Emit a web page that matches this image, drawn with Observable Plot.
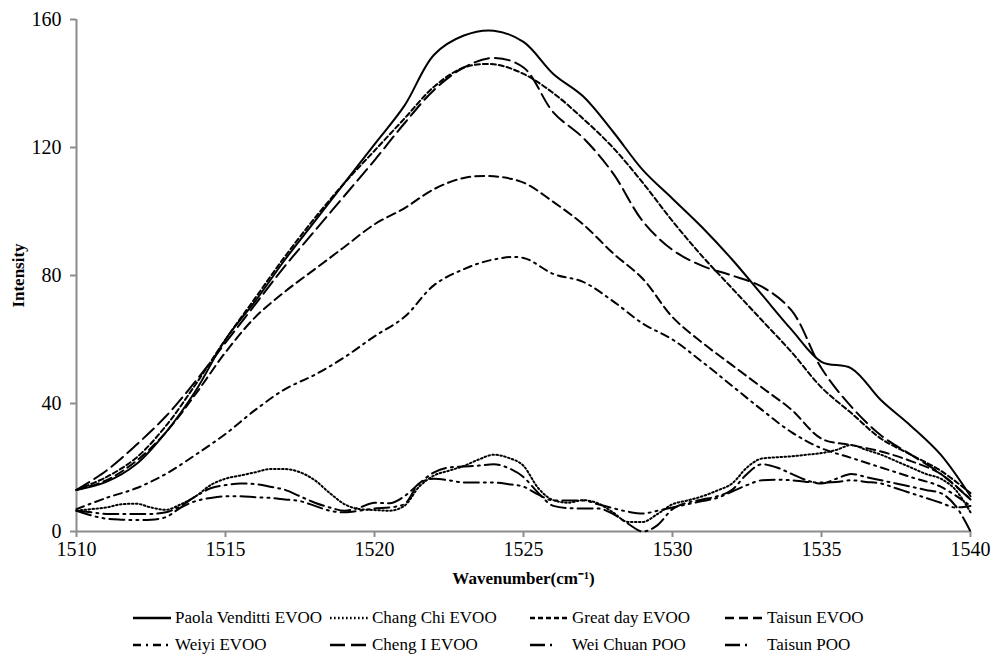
<!DOCTYPE html>
<html><head><meta charset="utf-8">
<script src="https://cdn.jsdelivr.net/npm/d3@7"></script>
<script src="https://cdn.jsdelivr.net/npm/@observablehq/plot@0.6"></script>
<style>
body{margin:0;background:#fff;font-family:"Liberation Serif","Times New Roman",serif;}
#wrap{width:994px;height:656px;position:relative;}
#legend{position:relative;width:994px;height:60px;}
.item{position:absolute;height:20px;display:flex;align-items:center;font-size:17px;color:#000;white-space:nowrap;}
.item svg{position:absolute;left:0;top:0;}
.item span{position:absolute;top:0;line-height:20px;}
</style></head><body><div id="wrap"><div id="chart"></div><div id="legend"></div></div>
<script>
// Coarse wavenumber grid (cm-1) for the large peaks
const wavenumbers = [1510,1511,1512,1513,1514,1515,1516,1517,1518,1519,1520,1521,1522,1523,1524,1525,1526,1527,1528,1529,1530,1531,1532,1533,1534,1535,1536,1537,1538,1539,1540];
const paolaVenditti = [13,15.5,21,31,44,60,72,85,97,109,121,133,149,155,156.5,153,143,136,125,113,104,95,85,74,63,53,51,41,33,24,11];
const greatDay      = [13,17,23,33,46,60,73,86,98,109,119,129,139,145,146,143,137,129,120,109,97,86,76,66,56,45,37,29,24,19,12];
const taisunEVOO    = [13,16,22,31,43,56,67,75,82,89,96,101,107,110.5,111,109,103,96,87,79,67,59,52,45,38,29,27,25,22,18,10];
const weiyi         = [7,10.5,13.5,18,24,30.5,38,44.5,49,54.5,61,67,77,82,85,85.5,80.5,78,72,65,60,53,45.5,38,31,26,23,20,17,14,8];
const chengI        = [13,19,27,36,47,59,71,83,94,105,116,127.5,138,145,148,145,131,123,112,97,88,83,80,76.5,69,51,39,30,24,18,10];

// Fine wavenumber grid for the small, wavy spectra
const wavenumbersFine = [1510,1510.5,1511,1511.5,1512,1512.5,1513,1513.5,1514,1514.5,
  1515,1515.5,1516,1516.5,1517,1517.5,1518,1518.5,1519,1519.5,
  1520,1520.5,1521,1521.5,1522,1522.5,1523,1523.5,1524,1524.5,
  1525,1525.5,1526,1526.5,1527,1527.5,1528,1528.5,1529,1529.5,
  1530,1530.5,1531,1531.5,1532,1532.5,1533,1533.5,1534,1534.5,
  1535,1535.5,1536,1536.5,1537,1537.5,1538,1538.5,1539,1539.5,1540];
const changChi = [6.5,7,7.5,8.5,8.7,7.5,6.8,8.5,11,14.5,
  16.5,17.5,18.5,19.5,19.5,18.5,16,12,8.5,7,
  6.7,6.5,8,14,17.5,19,20.5,22.5,24,23,
  20.5,13.5,9.8,9,9.8,8.8,6,3,3,5.5,
  8.5,9.7,11,12.8,15,20,22.8,23.2,23.5,24,
  24.5,25.5,27,25.5,24,22,20,18,16.5,13,6];
const weiChuanPOO = [6.5,6,5.5,5.5,5.5,5.5,6,8,11,13.5,
  14.5,15,14.8,14,13,11,9,7.5,6.5,7.5,
  9,8.8,11,15,18.5,20,20.3,20.6,21,19.8,
  17,12,8,7.3,7.2,7.2,5.5,2.5,0,2,
  7,9,10,11,13,18,21,20,18,16,
  15,16.5,18,17,16,15,14,13,12,8,0];
const taisunPOO = [6.5,5,4,3.7,3.6,3.7,4.5,7.5,9.5,10.5,
  11,11,10.7,10.5,10,9.5,8,6.5,6,6.5,
  7.2,7.5,8.5,15,16.5,16,15.3,15.3,15.3,14.8,
  14,11.5,9.7,9.7,9.7,8.5,7.3,6.2,5.6,6.5,
  7.5,8.5,9.5,10.5,12.5,14.5,16,16.2,16,15.5,
  15.3,15.5,16,15.5,15,13.5,12,10.5,9,7.5,8];

const seriesNames = ["Paola Venditti EVOO","Chang Chi EVOO","Great day EVOO","Taisun EVOO","Weiyi EVOO","Cheng I EVOO","Wei Chuan POO","Taisun POO"];
const xTicks = [1510,1515,1520,1525,1530,1535,1540];
const yTicks = [0,40,80,120,160];

const series = [
  {name: seriesNames[0], x: wavenumbers, y: paolaVenditti, dash: null, curve: "catmull-rom"},
  {name: seriesNames[1], x: wavenumbersFine, y: changChi, dash: "1.6 2.4", curve: "monotone-x"},
  {name: seriesNames[2], x: wavenumbers, y: greatDay, dash: "5 3", curve: "catmull-rom"},
  {name: seriesNames[3], x: wavenumbers, y: taisunEVOO, dash: "9 5", curve: "catmull-rom"},
  {name: seriesNames[4], x: wavenumbers, y: weiyi, dash: "8 5 2 5", curve: "catmull-rom"},
  {name: seriesNames[5], x: wavenumbers, y: chengI, dash: "15 6", curve: "catmull-rom"},
  {name: seriesNames[6], x: wavenumbersFine, y: weiChuanPOO, dash: "15 5 2 5", curve: "monotone-x"},
  {name: seriesNames[7], x: wavenumbersFine, y: taisunPOO, dash: "15 5 2 5 2 5", curve: "monotone-x"}
];

const axisGray = "#8c8c8c";
const chart = Plot.plot({
  width: 994,
  height: 596,
  marginLeft: 76,
  marginRight: 24,
  marginTop: 19,
  marginBottom: 65,
  style: {fontFamily: "'Liberation Serif','Times New Roman',serif", fontSize: "20px", background: "#fff", color: "#000"},
  x: {domain: [1510, 1540]},
  y: {domain: [0, 160]},
  marks: [
    Plot.axisX({ticks: xTicks, tickSize: 6, tickPadding: 4, stroke: axisGray, strokeWidth: 2, fill: "#000", tickFormat: d => String(d), label: null}),
    Plot.axisY({ticks: yTicks, tickSize: 6, tickPadding: 9, stroke: axisGray, strokeWidth: 2, fill: "#000", tickFormat: d => String(d), label: null}),
    Plot.ruleY([0], {stroke: axisGray, strokeWidth: 2}),
    Plot.ruleX([1510], {stroke: axisGray, strokeWidth: 2}),
    ...series.map(s => Plot.line(s.x.map((x, i) => ({x, y: s.y[i]})), {
      x: "x", y: "y", stroke: "#000", strokeWidth: 2, strokeDasharray: s.dash, curve: s.curve
    })),
    Plot.text(["Intensity"], {text: d => d, frameAnchor: "left", rotate: -90, dx: -58, textAnchor: "middle", lineAnchor: "middle", fontWeight: "bold", fontSize: 17}),
    Plot.text(["Wavenumber(cm⁻¹)"], {text: d => d, frameAnchor: "bottom", dy: 47, textAnchor: "middle", lineAnchor: "middle", fontWeight: "bold", fontSize: 17})
  ]
});
document.getElementById("chart").appendChild(chart);

// Legend below the chart
const legend = document.getElementById("legend");
const colX = [133, 330, 530, 725];
const rowY = [12, 39];
series.forEach((s, i) => {
  const col = i % 4, row = Math.floor(i / 4);
  const sw = (i >= 6) ? 27 : 38;
  const item = document.createElement("div");
  item.className = "item";
  item.style.left = colX[col] + "px";
  item.style.top = rowY[row] + "px";
  item.style.width = "200px";
  item.innerHTML = `<svg width="${sw}" height="20"><line x1="0" y1="10" x2="${sw}" y2="10" stroke="#000" stroke-width="2.5" ${s.dash ? `stroke-dasharray="${s.dash}"` : ""}/></svg><span style="left:42px">${s.name}</span>`;
  legend.appendChild(item);
});
</script></body></html>
